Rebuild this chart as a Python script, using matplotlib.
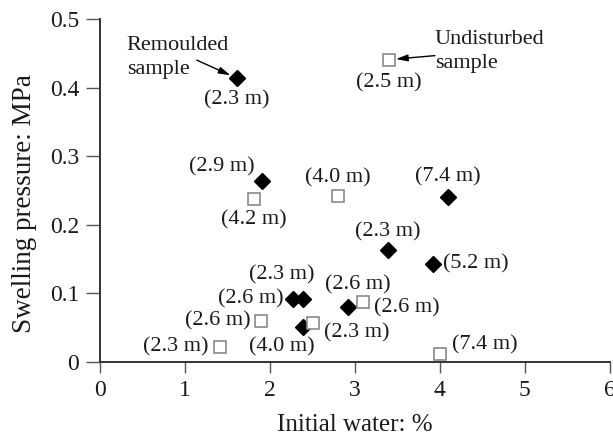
import matplotlib
matplotlib.use("Agg")
import matplotlib.pyplot as plt

plt.rcParams['font.family'] = ['Liberation Serif', 'DejaVu Serif']

# Remoulded samples (filled diamonds)
rem_water = [1.61, 1.91, 4.09, 3.39, 3.92, 2.92, 2.27, 2.39, 2.39]
rem_pressure = [0.414, 0.264, 0.241, 0.163, 0.143, 0.080, 0.092, 0.092, 0.051]
rem_depth = ["(2.3 m)", "(2.9 m)", "(7.4 m)", "(2.3 m)", "(5.2 m)",
             "(2.6 m)", "(2.6 m)", "(2.3 m)", "(4.0 m)"]

# Undisturbed samples (open squares)
und_water = [3.40, 1.81, 2.80, 3.10, 2.51, 1.90, 1.41, 4.00]
und_pressure = [0.441, 0.238, 0.242, 0.087, 0.057, 0.060, 0.022, 0.012]
und_depth = ["(2.5 m)", "(4.2 m)", "(4.0 m)", "(2.6 m)", "(2.3 m)",
             "(2.6 m)", "(2.3 m)", "(7.4 m)"]

# label offsets in pixels (dx, dy, ha)
rem_off = [(0, -22, 'center'), (-40, 14, 'center'), (0, 20, 'center'),
           (0, 18, 'center'), (10, 0, 'left'), (10, 22, 'center'),
           (-9, 0, 'right'), (-21, 24, 'center'), (-21, -20, 'center')]
und_off = [(0, -23, 'center'), (0, -21, 'center'), (0, 18, 'center'),
           (11, -6, 'left'), (11, -10, 'left'), (-11, 0, 'right'),
           (-11, 0, 'right'), (12, 9, 'left')]

fig = plt.figure(figsize=(6.13, 4.36), dpi=100)
ax = fig.add_axes([0.163, 0.170, 0.832, 0.786])

ax.plot(rem_water, rem_pressure, 'D', color='black', markersize=7.8, linestyle='none')
ax.plot(und_water, und_pressure, 's', markerfacecolor='white', markeredgecolor='#8a8a8a',
        markeredgewidth=1.2, markersize=8, linestyle='none')

fs = 16
txtc = '#1a1a1a'
for x, y, t, (dx, dy, ha) in zip(rem_water, rem_pressure, rem_depth, rem_off):
    ax.annotate(t, (x, y), xytext=(dx, dy), textcoords='offset pixels',
                ha=ha, va='center', fontsize=fs, color=txtc)
for x, y, t, (dx, dy, ha) in zip(und_water, und_pressure, und_depth, und_off):
    ax.annotate(t, (x, y), xytext=(dx, dy), textcoords='offset pixels',
                ha=ha, va='center', fontsize=fs, color=txtc)

# sample type callouts
ax.annotate("Remoulded\nsample", (rem_water[0], rem_pressure[0]), xytext=(-110, 21),
            textcoords='offset pixels', ha='left', va='center', fontsize=fs,
            color=txtc, linespacing=1.35)
ax.annotate("", (rem_water[0], rem_pressure[0]), xytext=(-40, 18),
            textcoords='offset pixels',
            arrowprops=dict(arrowstyle='-|>,head_length=0.7,head_width=0.2',
                            color='black', lw=1, shrinkA=0, shrinkB=5))
ax.annotate("Undisturbed\nsample", (und_water[0], und_pressure[0]), xytext=(46, 8),
            textcoords='offset pixels', ha='left', va='center', fontsize=fs,
            color=txtc, linespacing=1.35)
ax.annotate("", (und_water[0], und_pressure[0]), xytext=(46, 4),
            textcoords='offset pixels',
            arrowprops=dict(arrowstyle='-|>,head_length=0.7,head_width=0.2',
                            color='black', lw=1, shrinkA=0, shrinkB=5))

ax.set_xlim(0, 6)
ax.set_ylim(0, 0.5)
ax.set_xticks([0, 1, 2, 3, 4, 5, 6])
ax.set_yticks([0, 0.1, 0.2, 0.3, 0.4, 0.5])
ax.set_yticklabels(['0', '0.1', '0.2', '0.3', '0.4', '0.5'])
ax.spines['top'].set_visible(False)
ax.spines['right'].set_visible(False)
for s in ['left', 'bottom']:
    ax.spines[s].set_linewidth(1.4)
    ax.spines[s].set_color('#333333')
ax.tick_params(axis='y', length=10, width=1, color='#555555', labelsize=17, labelcolor=txtc, pad=5)
ax.tick_params(axis='x', length=8, width=1, color='#555555', labelsize=17, labelcolor=txtc, pad=5)
ax.set_xlabel("Initial water: %", fontsize=18, color=txtc, va='center')
ax.set_ylabel("Swelling pressure: MPa", fontsize=19.5, color=txtc, va='center')
ax.xaxis.set_label_coords(0.5, -0.184)
ax.yaxis.set_label_coords(-0.147, 0.463)
for sp in ax.spines.values():
    sp.set_clip_on(False)

fig.savefig("out.png", dpi=100)
